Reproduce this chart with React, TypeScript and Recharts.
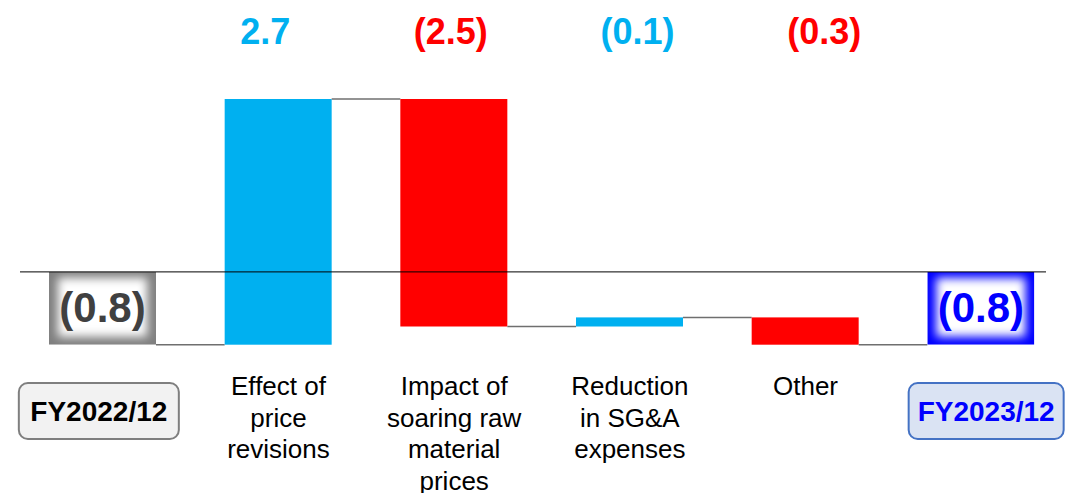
import React from "react";
import { ComposedChart, Bar, XAxis, YAxis, ReferenceLine, LabelList } from "recharts";

// Operating profit bridge FY2022/12 → FY2023/12 (waterfall).
// Endpoint bars are drawn from 0; the middle ones float on the running total.

const categories = [
  "FY2022/12",
  "Effect of\nprice\nrevisions",
  "Impact of\nsoaring raw\nmaterial\nprices",
  "Reduction\nin SG&A\nexpenses",
  "Other",
  "FY2023/12",
];
const kinds = ["total", "delta", "delta", "delta", "delta", "total"];
const values = [-0.8, 2.7, -2.5, 0.1, -0.3, -0.8];
const topLabels = ["", "2.7", "(2.5)", "(0.1)", "(0.3)", ""];
const totalLabels = ["(0.8)", "", "", "", "", "(0.8)"];

const FONT = "'Liberation Sans', Arial, sans-serif";
const UP = "#00B0F0";
const DOWN = "#FF0000";
const CONNECTOR = "#6f6f6f";
const TOTAL_EDGE = ["#7f7f7f", "", "", "", "", "#0000FF"];
const TOTAL_TEXT = ["#404040", "", "", "", "", "#0000FF"];
// the value labels above the plot are not quite centred on their bars
const TOP_LABEL_DX = [0, -13, -3, 8, 19, 0];

const CHART_W = 1070;
const MARGIN = { top: 8, right: 1, left: 15, bottom: 0 };
const BAR_SIZE = 107;
const BAND = (CHART_W - MARGIN.left - MARGIN.right) / categories.length;

let running = 0;
const rows = categories.map((name, i) => {
  let start: number;
  let end: number;
  if (kinds[i] === "total") {
    start = 0;
    end = values[i];
    running = values[i];
  } else {
    start = running;
    end = running + values[i];
    running = end;
  }
  return {
    name,
    kind: kinds[i],
    value: values[i],
    range: [Math.min(start, end), Math.max(start, end)],
    endsLow: end < start || (kinds[i] === "total" && end < 0),
    top: topLabels[i],
    total: totalLabels[i],
    idx: i,
  };
});

function WaterfallShape(props: any) {
  const { x, y, width, height, payload } = props;
  const i = payload.idx;
  const yEnd = payload.endsLow ? y + height : y;
  const connector =
    i < rows.length - 1 ? (
      <line
        x1={x + width}
        x2={x + BAND}
        y1={yEnd}
        y2={yEnd}
        stroke={CONNECTOR}
        strokeWidth={1.5}
      />
    ) : null;

  if (payload.kind === "total") {
    const clipId = `clip-total-${i}`;
    return (
      <g>
        <defs>
          <clipPath id={clipId}>
            <rect x={x} y={y} width={width} height={height} />
          </clipPath>
          <filter id={`soft-${i}`} x="-50%" y="-50%" width="200%" height="200%">
            <feGaussianBlur stdDeviation={5} />
          </filter>
        </defs>
        <g clipPath={`url(#${clipId})`}>
          <rect x={x} y={y} width={width} height={height} fill={TOTAL_EDGE[i]} />
          <rect
            x={x + 9}
            y={y + 6}
            width={width - 18}
            height={height - 14}
            fill="#ffffff"
            filter={`url(#soft-${i})`}
          />
        </g>
        <text
          x={x + width / 2}
          y={y + height / 2 + 14}
          textAnchor="middle"
          fontFamily={FONT}
          fontWeight="bold"
          fontSize={42}
          fill={TOTAL_TEXT[i]}
        >
          {payload.total}
        </text>
        {connector}
      </g>
    );
  }

  return (
    <g>
      <rect x={x} y={y} width={width} height={height} fill={payload.value >= 0 ? UP : DOWN} />
      {connector}
    </g>
  );
}

function TopLabel(props: any) {
  const { x, width, value, index } = props;
  if (!value) return null;
  return (
    <text
      x={x + width / 2 + TOP_LABEL_DX[index]}
      y={44}
      textAnchor="middle"
      fontFamily={FONT}
      fontWeight="bold"
      fontSize={36}
      fill={values[index] >= 0 ? UP : DOWN}
    >
      {value}
    </text>
  );
}

function CategoryTick(props: any) {
  const { x, y, payload, index } = props;
  const label: string = payload.value;
  if (kinds[index] === "total") {
    const first = index === 0;
    const cx = x + (first ? -4 : 5);
    const w = first ? 160 : 155;
    return (
      <g>
        <rect
          x={cx - w / 2}
          y={y + 3}
          width={w}
          height={56}
          rx={9}
          fill={first ? "#F2F2F2" : "#DAE3F3"}
          stroke={first ? "#7F7F7F" : "#4472C4"}
          strokeWidth={2}
        />
        <text
          x={cx}
          y={y + 41}
          textAnchor="middle"
          fontFamily={FONT}
          fontWeight="bold"
          fontSize={28}
          fill={first ? "#000000" : "#0000FF"}
        >
          {label}
        </text>
      </g>
    );
  }
  const lines = label.split("\n");
  return (
    <text x={x} y={y + 15} textAnchor="middle" fontFamily={FONT} fontSize={26} fill="#000">
      {lines.map((l, k) => (
        <tspan key={k} x={x} dy={k === 0 ? 0 : 31.5}>
          {l}
        </tspan>
      ))}
    </text>
  );
}

export default function App() {
  return (
    <div
      style={{
        position: "absolute",
        left: 0,
        top: 0,
        width: 1066,
        height: 493,
        overflow: "hidden",
        background: "#fff",
      }}
    >
      <ComposedChart width={CHART_W} height={493} data={rows} margin={MARGIN}>
        <XAxis
          dataKey="name"
          height={121}
          axisLine={false}
          tickLine={false}
          interval={0}
          tick={<CategoryTick />}
        />
        <YAxis hide domain={[-1.1, 2.9]} />
        <Bar dataKey="range" barSize={BAR_SIZE} shape={<WaterfallShape />} isAnimationActive={false}>
          <LabelList dataKey="top" content={<TopLabel />} />
        </Bar>
        <ReferenceLine
          y={0}
          stroke="#000"
          strokeWidth={1}
          shape={(p: any) => (
            <line x1={20} x2={1046} y1={p.y1} y2={p.y2} stroke="#000" strokeWidth={1} />
          )}
        />
      </ComposedChart>
    </div>
  );
}
